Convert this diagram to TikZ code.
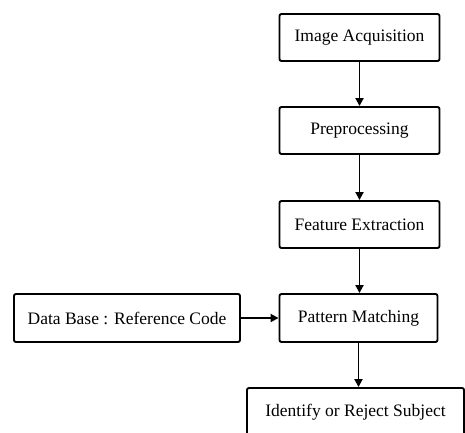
\documentclass[tikz,border=0pt]{standalone}
\usepackage{fontspec}
\setmainfont{Liberation Serif}
\usetikzlibrary{arrows.meta}
\begin{document}
\begin{tikzpicture}[x=1pt,y=-1pt,
  stepbox/.style={draw=black,line width=1.9pt,rounded corners=2pt,fill=white,
    minimum width=160pt,minimum height=47pt,inner sep=0pt,
    font=\fontsize{17.5}{20}\selectfont},
  flow/.style={line width=1.9pt,-{Triangle[length=8pt,width=8pt]}}]
\useasboundingbox (0,0) rectangle (465,432);
\clip (0,0) rectangle (465,432);
\fill[white] (0,0) rectangle (465,432);
\node[stepbox] (acq) at (359.5,37.5) {Image Acquisition};
\node[stepbox] (pre) at (359.5,130.5) {Preprocessing};
\node[stepbox] (feat) at (359.5,224.5) {Feature Extraction};
\node[stepbox,minimum width=158pt,minimum height=48pt] (pat) at (358.5,318) {Pattern Matching};
\node[stepbox,minimum width=226pt,minimum height=48pt] (db) at (127,318) {Data Base : Reference Code};
\node[stepbox,minimum width=217pt,minimum height=48pt] (id) at (355.5,412) {Identify or Reject Subject};
\draw[flow] (acq.south) -- (pre.north);
\draw[flow] (pre.south) -- (feat.north);
\draw[flow] (feat.south) -- (feat.south |- pat.north);
\draw[flow] (db.east) -- (pat.west);
\draw[flow] (pat.south) -- (pat.south |- id.north);
\end{tikzpicture}
\end{document}
